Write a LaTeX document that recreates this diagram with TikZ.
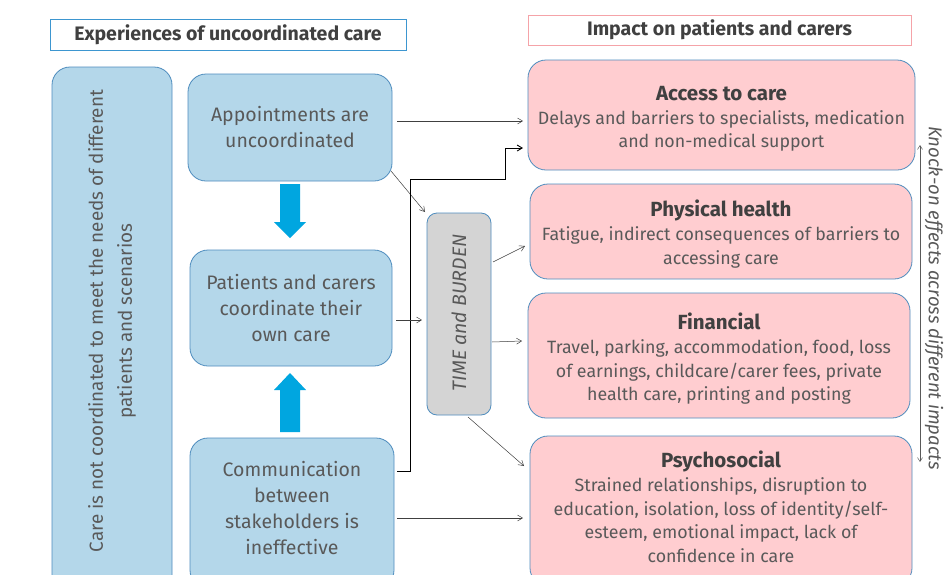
\documentclass[tikz,border=0pt]{standalone}
\usepackage{fontspec}
\setmainfont{Fira Sans}
\usetikzlibrary{arrows.meta}
\definecolor{bluefill}{HTML}{B4D7EA}
\definecolor{boxline}{HTML}{4F8DBE}
\definecolor{pinkfill}{HTML}{FFCDD0}
\definecolor{pinkline}{HTML}{F5A3A8}
\definecolor{grayfill}{HTML}{D4D4D4}
\definecolor{textdark}{HTML}{404040}
\definecolor{textmid}{HTML}{595959}
\definecolor{bigarrow}{HTML}{00A6E0}
\definecolor{titleblue}{HTML}{3D96D0}
\tikzset{
  bbox/.style={draw=boxline, line width=0.8pt, fill=bluefill, rounded corners=18pt, inner sep=2pt, align=center, text=textmid, font=\fontsize{19.5}{26}\selectfont},
  pbox/.style={draw=boxline, line width=0.8pt, fill=pinkfill, rounded corners=18pt},
  gbox/.style={draw=boxline, line width=0.8pt, fill=grayfill, rounded corners=10pt},
  ttl/.style={line width=0.8pt, fill=white, font=\bfseries\fontsize{19.5}{22}\selectfont, text=textdark},
  conn/.style={draw=textdark, line width=0.5pt, -{Straight Barb[length=5pt,width=6pt]}},
  ptxt/.style={align=center, text=textmid, font=\fontsize{17.8}{23.7}\selectfont}
}
\newcommand{\hdg}[1]{{\bfseries\fontsize{20.5}{23.7}\selectfont\color{textdark}#1}}
\begin{document}
\begin{tikzpicture}[x=1pt,y=-1pt]
\useasboundingbox (0,0) rectangle (946,574);
\clip (0,0) rectangle (946,574);
\fill[white] (0,0) rectangle (946,574);
% titles
\node[ttl, draw=titleblue, minimum width=356pt, minimum height=31pt] (t1) at (228,34.5) {Experiences of uncoordinated care};
\node[ttl, draw=pinkline, minimum width=383pt, minimum height=30pt] (t2) at (719.5,30) {Impact on patients and carers};
% left tall box
\node[bbox, minimum width=120pt, minimum height=530pt] (care) at (112,332) {};
\node[rotate=90, align=center, text=textmid, font=\fontsize{18.9}{29}\selectfont] (caretxt) at (112,321) {Care is not coordinated to meet the needs of different\\patients and scenarios};
% middle boxes
\node[bbox, minimum width=204pt, minimum height=107pt] (app) at (290,127.5) {Appointments are\\uncoordinated};
\node[bbox, minimum width=202pt, minimum height=116pt] (pat) at (291,308) {Patients and carers\\coordinate their\\own care};
\node[bbox, minimum width=204pt, minimum height=150pt] (com) at (292,513) {};
\node[align=center, text=textmid, font=\fontsize{19.5}{25.7}\selectfont] (comtxt) at (292,508) {Communication\\between\\stakeholders is\\ineffective};
% blue arrows
\fill[bigarrow] (280,184) -- (300,184) -- (300,222) -- (306,222) -- (290,238) -- (274,222) -- (280,222) -- cycle;
\fill[bigarrow] (280,432) -- (300,432) -- (300,390) -- (306,390) -- (290,373) -- (274,390) -- (280,390) -- cycle;
% grey box
\node[gbox, minimum width=64pt, minimum height=202pt] (tb) at (459,314) {};
\node[rotate=90, font=\itshape\fontsize{19.5}{20}\selectfont, text=textmid] (tbtxt) at (459,313) {TIME and BURDEN};
% pink boxes
\node[pbox, minimum width=387pt, minimum height=110pt] (acc) at (721.5,115) {};
\node[ptxt] (acctxt) at (721.5,119) {\hdg{Access to care}\\Delays and barriers to specialists, medication\\and non-medical support};
\node[pbox, minimum width=382pt, minimum height=95pt] (phy) at (721,231.5) {};
\node[ptxt] (phytxt) at (721,234) {\hdg{Physical health}\\Fatigue, indirect consequences of barriers to\\accessing care};
\node[pbox, minimum width=382pt, minimum height=125pt] (fin) at (719,355.5) {};
\node[ptxt] (fintxt) at (719,359) {\hdg{Financial}\\Travel, parking, accommodation, food, loss\\of earnings, childcare/carer fees, private\\health care, printing and posting};
\node[pbox, minimum width=382pt, minimum height=150pt] (psy) at (721,511) {};
\node[ptxt] (psytxt) at (721,507) {\hdg{Psychosocial}\\Strained relationships, disruption to\\education, isolation, loss of identity/self-\\esteem, emotional impact, lack of\\confidence in care};
% connectors
\coordinate (appR) at (397,121);
\coordinate (accL1) at (523,121);
\draw[conn] (appR) -- (accL1);
\coordinate (appC) at (391,171);
\coordinate (tbC) at (425,212);
\draw[conn] (appC) -- (tbC);
\coordinate (comR) at (397,471);
\coordinate (accL2) at (523,148);
\draw[conn, line width=0.9pt, draw=black] (comR) -- (410,471) -- (410,179) -- (505,179) -- (505,148) -- (accL2);
\coordinate (patR) at (396,320);
\coordinate (tbL) at (422,320);
\draw[conn] (patR) -- (tbL);
\coordinate (tbR1) at (493,262);
\coordinate (phyL) at (525,246);
\draw[conn] (tbR1) -- (phyL);
\coordinate (tbR2) at (492,342);
\coordinate (finL) at (522,341);
\draw[conn] (tbR2) -- (finL);
\coordinate (tbB) at (468,417);
\coordinate (psyL1) at (524,466);
\draw[conn] (tbB) -- (psyL1);
\coordinate (comR2) at (397,518);
\coordinate (psyL2) at (523,518);
\draw[conn] (comR2) -- (psyL2);
% knock-on
\coordinate (kTop) at (920,145);
\coordinate (kBot) at (920,462);
\draw[draw=textmid, line width=0.5pt, {Straight Barb[length=4pt,width=5pt]}-{Straight Barb[length=4pt,width=5pt]}] (kTop) -- (kBot);
\node[rotate=-90, font=\itshape\fontsize{18.5}{20}\selectfont, text=textmid] (ktxt) at (934,298) {Knock-on effects across different impacts};
\end{tikzpicture}
\end{document}
